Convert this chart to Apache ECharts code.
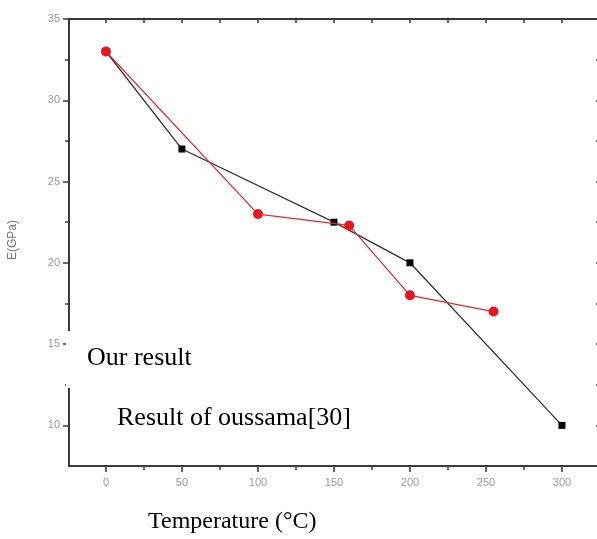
<!DOCTYPE html>
<html>
<head>
<meta charset="utf-8">
<script src="https://cdn.jsdelivr.net/npm/echarts@6/dist/echarts.min.js"></script>
<style>
  html, body { margin: 0; padding: 0; background: #fff; }
  #chart { width: 597px; height: 539px; }
</style>
</head>
<body>
<div id="chart"></div>
<script>
// values
var ourX = [0, 100, 160, 200, 255];
var ourE = [33, 23, 22.3, 18, 17];
var oussamaX = [0, 50, 150, 200, 300];
var oussamaE = [33, 27, 22.5, 20, 10];

var xMajor = [0, 50, 100, 150, 200, 250, 300];
var xMinor = [25, 75, 125, 175, 225, 275];
var yMajor = [10, 15, 20, 25, 30, 35];
var yMinor = [12.5, 17.5, 22.5, 27.5, 32.5];

function pairs(xs, ys) {
  var out = [];
  for (var i = 0; i < xs.length; i++) out.push([xs[i], ys[i]]);
  return out;
}

var X_MIN = -24.3, X_MAX = 327;
var Y_MIN = 7.5, Y_MAX = 35;
var lineCol = '#3a3a3a';
var labelCol = '#999';

function xAx(pos, ticks, len, inside, showLine, labels) {
  return {
    type: 'value', position: pos, min: X_MIN, max: X_MAX, splitLine: { show: false },
    axisLine: { show: showLine, onZero: false, lineStyle: { color: lineCol, width: 2 } },
    axisTick: { show: true, inside: inside, length: len, customValues: ticks, lineStyle: { color: lineCol, width: 1.5 } },
    axisLabel: labels ? { show: true, customValues: ticks, color: labelCol, fontSize: 11, fontFamily: 'Arial', margin: 11 } : { show: false }
  };
}
function yAx(pos, ticks, len, inside, showLine, labels) {
  return {
    type: 'value', position: pos, min: Y_MIN, max: Y_MAX, splitLine: { show: false },
    axisLine: { show: showLine, onZero: false, lineStyle: { color: lineCol, width: 2 } },
    axisTick: { show: true, inside: inside, length: len, customValues: ticks, lineStyle: { color: lineCol, width: 1.5 } },
    axisLabel: labels ? { show: true, customValues: ticks, color: labelCol, fontSize: 11, fontFamily: 'Arial', margin: 9 } : { show: false }
  };
}

var chart = echarts.init(document.getElementById('chart'));
chart.setOption({
  animation: false,
  backgroundColor: '#fff',
  grid: { left: 69, right: -6, top: 19, bottom: 73, outerBoundsMode: 'none' },
  xAxis: [
    xAx('bottom', xMajor, 6, false, true, true),
    xAx('bottom', xMinor, 4, false, false, false),
    xAx('top', xMajor.concat(xMinor), 4, true, true, false)
  ],
  yAxis: [
    yAx('left', yMajor, 6, false, true, true),
    yAx('left', yMinor, 4, false, false, false),
    yAx('right', yMajor.concat(yMinor), 7, true, true, false)
  ],
  series: [
    {
      name: 'Result of oussama[30]', type: 'line', xAxisIndex: 0, yAxisIndex: 0,
      data: pairs(oussamaX, oussamaE),
      symbol: 'rect', symbolSize: 7, z: 2,
      lineStyle: { color: '#333', width: 1.3 },
      itemStyle: { color: '#000' }
    },
    {
      name: 'Our result', type: 'line', xAxisIndex: 0, yAxisIndex: 0,
      data: pairs(ourX, ourE),
      symbol: 'circle', symbolSize: 10, z: 3,
      lineStyle: { color: '#e8262a', width: 1.2 },
      itemStyle: { color: '#e8161b' }
    }
  ],
  graphic: [
    { type: 'rect', z: 100, shape: { x: 66, y: 331, width: 140, height: 57 }, style: { fill: '#fff' } },
    { type: 'text', z: 101, x: 13, y: 240, rotation: Math.PI / 2,
      style: { text: 'E(GPa)', fill: '#777', font: '12px Arial', textAlign: 'center', textVerticalAlign: 'middle' } },
    { type: 'text', z: 101, x: 87, y: 358,
      style: { text: 'Our result', fill: '#000', font: '26px "Liberation Serif"', textVerticalAlign: 'middle' } },
    { type: 'text', z: 101, x: 117, y: 418,
      style: { text: 'Result of oussama[30]', fill: '#000', font: '26px "Liberation Serif"', textVerticalAlign: 'middle' } },
    { type: 'text', z: 101, x: 148, y: 522,
      style: { text: 'Temperature (°C)', fill: '#000', font: '24px "Liberation Serif"', textVerticalAlign: 'middle' } }
  ]
});
</script>
</body>
</html>
